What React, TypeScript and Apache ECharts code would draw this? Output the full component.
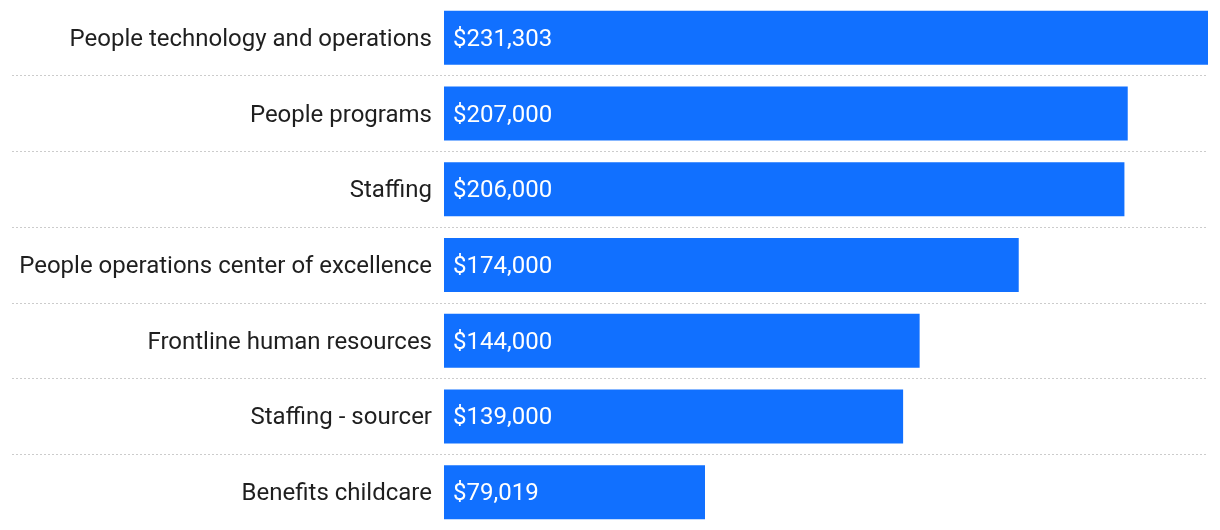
import React, { useEffect, useRef } from "react";
import * as echarts from "echarts";

const categories = [
  "People technology and operations",
  "People programs",
  "Staffing",
  "People operations center of excellence",
  "Frontline human resources",
  "Staffing - sourcer",
  "Benefits childcare",
];
const values = [231303, 207000, 206000, 174000, 144000, 139000, 79019];

const fmt = (v: number) => "$" + v.toLocaleString("en-US");

export default function App() {
  const ref = useRef<HTMLDivElement>(null);
  useEffect(() => {
    const chart = echarts.init(ref.current!, null, { renderer: "svg" });
    chart.setOption({
      animation: false,
      grid: [
        { left: 12, right: 12, top: -1, height: 532, containLabel: false },
        { left: 444, right: 12, top: -1, height: 532, containLabel: false },
      ],
      xAxis: [
        { type: "value", gridIndex: 0, show: false, min: 0, max: 1 },
        { type: "value", gridIndex: 1, show: false, min: 0, max: 231303 },
      ],
      yAxis: [
        {
          type: "category",
          gridIndex: 0,
          data: categories,
          inverse: true,
          axisLine: { show: false },
          axisTick: { show: false },
          axisLabel: { show: false },
          splitLine: {
            show: true,
            showMinLine: false,
            showMaxLine: false,
            lineStyle: { color: "#cccccc", width: 1, type: [2, 2] },
          },
        },
        {
          type: "category",
          gridIndex: 1,
          data: categories,
          inverse: true,
          axisLine: { show: false },
          axisTick: { show: false },
          splitLine: { show: false },
          axisLabel: {
            margin: 12,
            color: "#1f1f1f",
            fontSize: 24,
            fontFamily: "Roboto",
          },
        },
      ],
      series: [
        {
          type: "bar",
          xAxisIndex: 1,
          yAxisIndex: 1,
          data: values,
          barWidth: 54,
          itemStyle: { color: "#1170ff" },
          label: {
            show: true,
            position: "insideLeft",
            distance: 9,
            color: "#ffffff",
            fontSize: 24,
            fontFamily: "Roboto",
            formatter: (p: any) => fmt(p.value),
          },
        },
      ],
    });
    return () => chart.dispose();
  }, []);
  return (
    <div
      ref={ref}
      style={{ position: "fixed", left: 0, top: 0, width: 1220, height: 530 }}
    />
  );
}
